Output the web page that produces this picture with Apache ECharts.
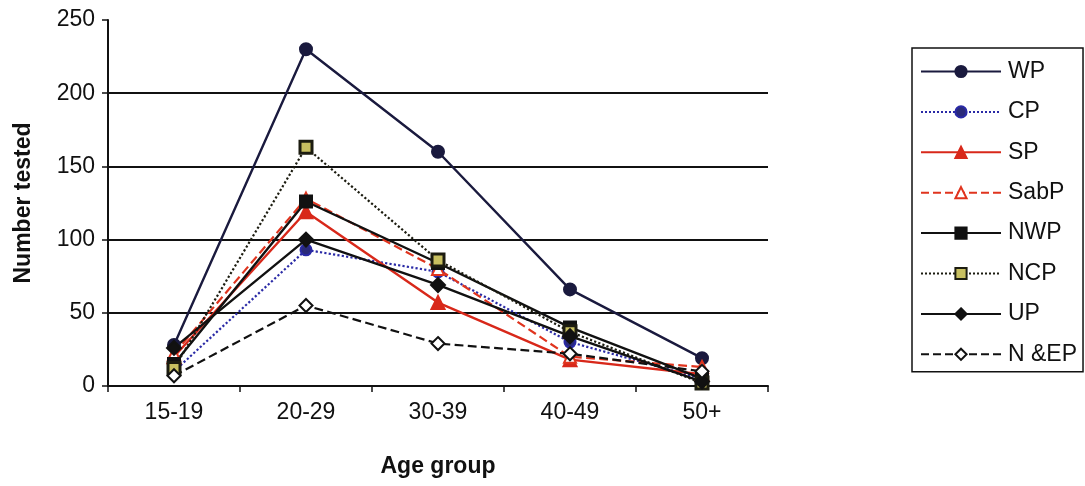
<!DOCTYPE html>
<html><head><meta charset="utf-8">
<script src="https://cdn.jsdelivr.net/npm/echarts@6/dist/echarts.min.js"></script>
<style>html,body{margin:0;padding:0;background:#fff}#c{width:1085px;height:486px}</style>
</head><body><div id="c"></div>
<script>
const categories = ['15-19', '20-29', '30-39', '40-49', '50+'];
const WP   = [28, 230, 160, 66, 19];
const CP   = [10, 93, 78, 30, 5];
const SP   = [20, 119, 57, 18, 8];
const SabP = [22, 128, 80, 20, 13];
const NWP  = [15, 126, 84, 40, 5];
const NCP  = [12, 163, 86, 37, 2];
const UP   = [26, 100, 69, 34, 3];
const NEP  = [7, 55, 29, 22, 10];
const yTicks = [0, 50, 100, 150, 200, 250];

const FONT = '"Liberation Sans", Arial, sans-serif';
function s(name, data, color, type, symbol, fill, size, bw) {
  return {
    name, type: 'line', data,
    symbol, symbolSize: size || 11,
    lineStyle: { color, width: type === 'solid' ? 2.4 : 2.2, type },
    itemStyle: { color: fill, borderColor: color, borderWidth: bw || 2 },
    emphasis: { disabled: true }
  };
}
const chart = echarts.init(document.getElementById('c'), null, { renderer: 'canvas' });
chart.setOption({
  backgroundColor: '#fff',
  animation: false,
  textStyle: { fontFamily: FONT },
  grid: { left: 108, right: 317, top: 20, bottom: 100 },
  xAxis: {
    type: 'category', data: categories, boundaryGap: true,
    name: 'Age group', nameLocation: 'middle', nameGap: 69,
    nameTextStyle: { fontSize: 23, fontWeight: 'bold', color: '#111', fontFamily: FONT },
    axisLine: { lineStyle: { color: '#111', width: 2 } },
    axisTick: { show: true, length: 6, lineStyle: { color: '#111', width: 1.5 } },
    axisLabel: { fontSize: 23, color: '#111', margin: 15, fontFamily: FONT }
  },
  yAxis: {
    type: 'value', min: 0, max: 250, interval: 50,
    name: 'Number tested', nameLocation: 'middle', nameGap: 73, nameRotate: 90,
    nameTextStyle: { fontSize: 23, fontWeight: 'bold', color: '#111', fontFamily: FONT },
    axisLine: { show: true, lineStyle: { color: '#111', width: 2 } },
    axisTick: { show: true, length: 6, lineStyle: { color: '#111', width: 1.5 } },
    axisLabel: { fontSize: 23, color: '#111', margin: 13, fontFamily: FONT,
      formatter: v => yTicks.includes(v) ? String(v) : '' },
    splitLine: { show: true, showMaxLine: false, lineStyle: { color: '#111', width: 2 } }
  },
  legend: {
    orient: 'vertical', left: 912, top: 48,
    itemWidth: 80, itemHeight: 14, itemGap: 17.4,
    padding: [12, 6, 6, 8],
    borderColor: '#111', borderWidth: 1.5,
    textStyle: { fontSize: 23, color: '#111', fontFamily: FONT, padding: [0, 0, 0, 2] },
    data: ['WP', 'CP', 'SP', 'SabP', 'NWP', 'NCP', 'UP', 'N &EP']
  },
  series: [
    s('WP', WP, '#1a1a3e', 'solid', 'circle', '#1a1a3e', 12),
    s('CP', CP, '#2a2aa6', 'dotted', 'circle', '#2a2a7a', 11),
    s('SP', SP, '#d8281a', 'solid', 'triangle', '#d8281a', 13),
    s('SabP', SabP, '#e0341e', 'dashed', 'triangle', '#fff', 12),
    s('NWP', NWP, '#111', 'solid', 'rect', '#111', 12),
    s('NCP', NCP, '#1c1c10', 'dotted', 'rect', '#c8c060', 12, 3),
    s('UP', UP, '#111', 'solid', 'diamond', '#111', 14),
    s('N &EP', NEP, '#111', 'dashed', 'diamond', '#fff', 13)
  ]
});
</script></body></html>
